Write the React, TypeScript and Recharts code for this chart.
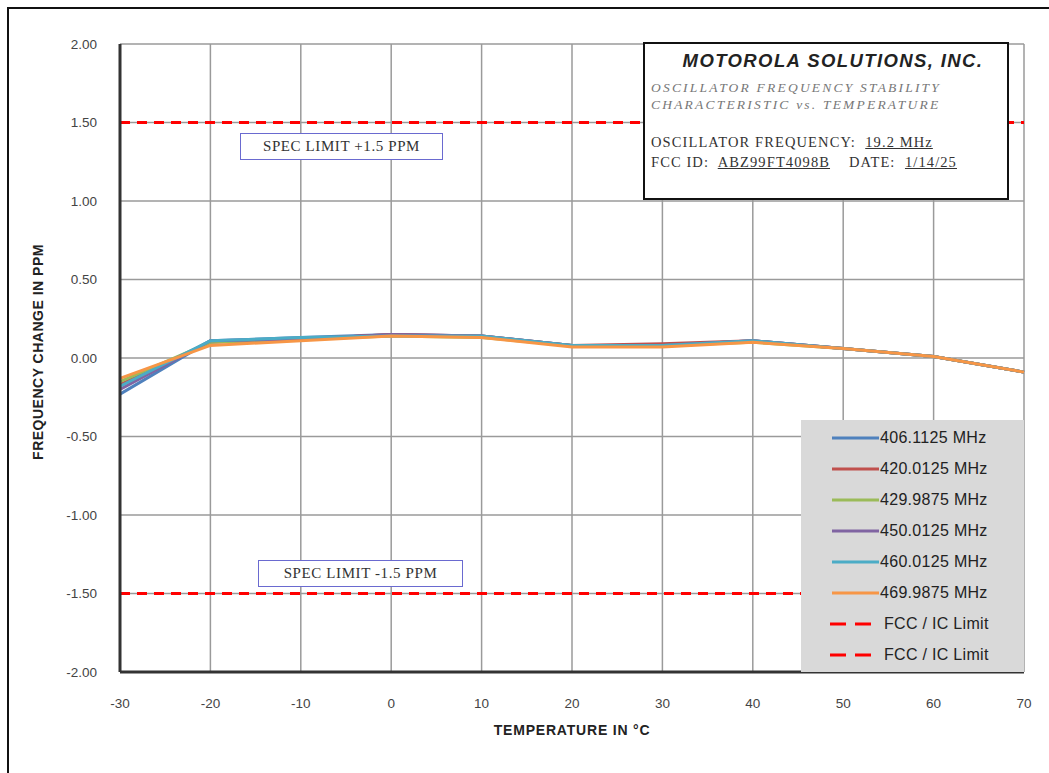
import { LineChart, Line, XAxis, YAxis, CartesianGrid, ReferenceLine } from "recharts";

const temps = [-30, -20, -10, 0, 10, 20, 30, 40, 50, 60, 70];

const f406 = [-0.23, 0.11, 0.13, 0.15, 0.14, 0.08, 0.08, 0.11, 0.06, 0.01, -0.09];
const f420 = [-0.17, 0.1, 0.12, 0.15, 0.14, 0.08, 0.09, 0.11, 0.06, 0.01, -0.09];
const f430 = [-0.15, 0.1, 0.12, 0.14, 0.13, 0.08, 0.08, 0.1, 0.06, 0.01, -0.09];
const f450 = [-0.2, 0.11, 0.12, 0.15, 0.14, 0.08, 0.08, 0.11, 0.06, 0.01, -0.09];
const f460 = [-0.18, 0.11, 0.13, 0.14, 0.14, 0.08, 0.08, 0.11, 0.06, 0.01, -0.09];
const f470 = [-0.13, 0.08, 0.11, 0.14, 0.13, 0.07, 0.07, 0.1, 0.06, 0.01, -0.09];

const seriesNames = ["406.1125 MHz", "420.0125 MHz", "429.9875 MHz", "450.0125 MHz", "460.0125 MHz", "469.9875 MHz"];
const seriesValues = [f406, f420, f430, f450, f460, f470];
const seriesColors = ["#4F81BD", "#C0504D", "#9BBB59", "#8064A2", "#4BACC6", "#F79646"];

const limitValues = [1.5, -1.5];
const limitName = "FCC / IC Limit";

const xTicks = [-30, -20, -10, 0, 10, 20, 30, 40, 50, 60, 70];
const yTicks = [-2, -1.5, -1, -0.5, 0, 0.5, 1, 1.5, 2];

const data = temps.map((t, i) => {
  const row: Record<string, number> = { temp: t };
  seriesNames.forEach((n, s) => {
    row[n] = seriesValues[s][i];
  });
  return row;
});

const sans = "'Liberation Sans', Arial, sans-serif";
const serif = "'Liberation Serif', 'Times New Roman', serif";

// legend drawn by hand so it doesn't eat into the plot area
function LegendBox() {
  return (
    <div
      style={{
        position: "absolute",
        left: 801,
        top: 420,
        background: "#d9d9d9",
        width: 223,
        height: 252,
        paddingTop: 2,
        boxSizing: "border-box",
        fontFamily: sans,
        fontSize: 16,
        color: "#222",
        letterSpacing: 0.3,
      }}
    >
      {seriesNames.map((n, i) => (
        <div key={n} style={{ display: "flex", alignItems: "center", height: 31 }}>
          <svg width={79} height={10}>
            <line x1={31} y1={5} x2={78} y2={5} stroke={seriesColors[i]} strokeWidth={3} />
          </svg>
          <span>{n}</span>
        </div>
      ))}
      {limitValues.map((v) => (
        <div key={v} style={{ display: "flex", alignItems: "center", height: 31 }}>
          <svg width={83} height={10}>
            <line x1={29} y1={5} x2={70} y2={5} stroke="#FF0000" strokeWidth={3} strokeDasharray="16 9" />
          </svg>
          <span>{limitName}</span>
        </div>
      ))}
    </div>
  );
}

const specBox = (text: string, left: number, top: number, width: number) => (
  <div
    style={{
      position: "absolute",
      left,
      top,
      width,
      height: 27,
      boxSizing: "border-box",
      border: "1.5px solid #6a6ad0",
      background: "#fff",
      fontFamily: serif,
      fontSize: 15,
      letterSpacing: 0.6,
      color: "#333",
      display: "flex",
      alignItems: "center",
      justifyContent: "center",
    }}
  >
    {text}
  </div>
);

export default function App() {
  return (
    <div style={{ position: "absolute", left: 0, top: 0, width: 1049, height: 773, background: "#fff", overflow: "hidden" }}>
      <div style={{ position: "absolute", left: 7, top: 7, width: 1060, height: 790, border: "2px solid #111", boxSizing: "border-box" }} />
      <LineChart width={1049} height={773} data={data} margin={{ top: 44, right: 25, left: 0, bottom: 71 }}>
        <CartesianGrid stroke="#9a9a9a" strokeWidth={1.5} />
        <XAxis
          dataKey="temp"
          type="number"
          domain={[-30, 70]}
          ticks={xTicks}
          height={30}
          axisLine={{ stroke: "#333", strokeWidth: 3 }}
          tickLine={false}
          tickMargin={20}
          tick={{ fontSize: 13.5, fill: "#444", fontFamily: sans }}
        />
        <YAxis
          type="number"
          domain={[-2, 2]}
          ticks={yTicks}
          width={120}
          axisLine={{ stroke: "#333", strokeWidth: 3 }}
          tickLine={false}
          tickMargin={17}
          tickFormatter={(v: number) => v.toFixed(2)}
          tick={{ fontSize: 13.5, fill: "#444", fontFamily: sans }}
        />
        {limitValues.map((v) => (
          <ReferenceLine key={v} y={v} stroke="#FF0000" strokeWidth={3} strokeDasharray="10 7" />
        ))}
        {seriesNames.map((n, i) => (
          <Line
            key={n}
            dataKey={n}
            stroke={seriesColors[i]}
            strokeWidth={3}
            dot={false}
            isAnimationActive={false}
          />
        ))}
      </LineChart>

      <LegendBox />

      <div
        style={{
          position: "absolute",
          left: 38,
          top: 352,
          transform: "translate(-50%, -50%) rotate(-90deg)",
          fontFamily: sans,
          fontWeight: "bold",
          fontSize: 14,
          letterSpacing: 0.5,
          color: "#222",
          whiteSpace: "nowrap",
        }}
      >
        FREQUENCY CHANGE IN PPM
      </div>
      <div
        style={{
          position: "absolute",
          left: 572,
          top: 730,
          transform: "translate(-50%, -50%)",
          fontFamily: sans,
          fontWeight: "bold",
          fontSize: 14,
          letterSpacing: 0.8,
          color: "#222",
          whiteSpace: "nowrap",
        }}
      >
        TEMPERATURE IN °C
      </div>

      {specBox("SPEC LIMIT +1.5 PPM", 240, 133, 203)}
      {specBox("SPEC LIMIT -1.5 PPM", 258, 560, 205)}

      <div
        style={{
          position: "absolute",
          left: 643,
          top: 42,
          width: 366,
          height: 158,
          boxSizing: "border-box",
          border: "2px solid #111",
          background: "#fff",
          padding: "6px 0 0 6px",
        }}
      >
        <div style={{ fontFamily: sans, fontWeight: "bold", fontStyle: "italic", fontSize: 18.5, letterSpacing: 1.4, color: "#222", textAlign: "center", paddingLeft: 8 }}>
          MOTOROLA SOLUTIONS, INC.
        </div>
        <div style={{ fontFamily: serif, fontStyle: "italic", fontSize: 13.5, letterSpacing: 2.2, color: "#777", marginTop: 7, lineHeight: "17px" }}>
          OSCILLATOR FREQUENCY STABILITY
          <br />
          CHARACTERISTIC vs. TEMPERATURE
        </div>
        <div style={{ fontFamily: serif, fontSize: 14.5, letterSpacing: 1.1, color: "#333", marginTop: 19, lineHeight: "20px", whiteSpace: "pre" }}>
          {"OSCILLATOR FREQUENCY:  "}<span style={{ textDecoration: "underline" }}>19.2 MHz</span>
          <br />
          {"FCC ID:  "}<span style={{ textDecoration: "underline" }}>ABZ99FT4098B</span>{"    DATE:  "}<span style={{ textDecoration: "underline" }}>1/14/25</span>
        </div>
      </div>
    </div>
  );
}
